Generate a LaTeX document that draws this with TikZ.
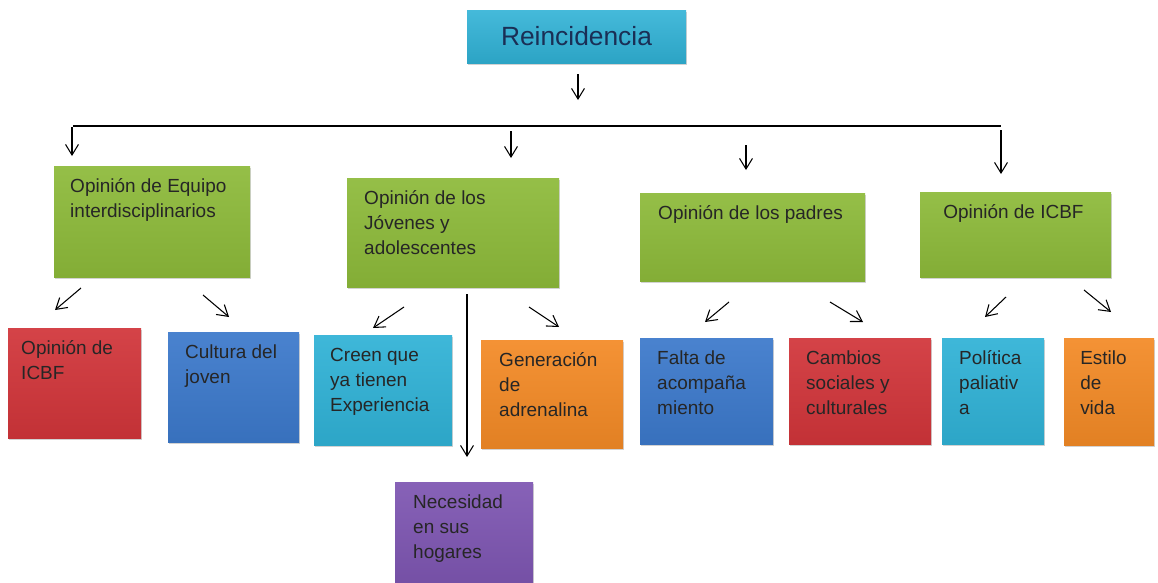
\documentclass[tikz,border=0pt]{standalone}
\usepackage{fontspec}
\setmainfont{Liberation Sans}
\usetikzlibrary{calc,arrows.meta,shadows}

\definecolor{verde}{HTML}{8DBA3A}
\definecolor{rojo}{HTML}{D1353A}
\definecolor{azul}{HTML}{3C79CB}
\definecolor{cian}{HTML}{30B2D6}
\definecolor{naranja}{HTML}{F38A26}
\definecolor{morado}{HTML}{7E56B2}
\definecolor{marino}{HTML}{1A2F55}

\begin{document}
\begin{tikzpicture}[x=0.03cm,y=-0.03cm,
  caja/.style={anchor=north west,inner sep=0pt,outer sep=0pt,drop shadow={shadow xshift=0.5pt,shadow yshift=-2pt,opacity=0.35}},
  texto/.style={anchor=north west,inner sep=0pt,align=left,text=black!85,font=\fontsize{16.2}{21.3}\selectfont},
  flecha/.style={-{Straight Barb[length=9pt,width=11pt]},line width=0.9pt}]

  \useasboundingbox[fill=white] (0,0) rectangle (1158,582);

  \def\caja#1#2#3#4#5#6#7#8{
    \node[caja,top color=#6!93!white,bottom color=#6!93!black,minimum width={#4*0.03cm},minimum height={#5*0.03cm}] (#1) at (#2,#3) {};
    \node[texto] (#1-t) at ([shift={(#7,8.5)}]#1.north west) {\strut #8};
  }

  % raiz
  \node[caja,top color=cian!90!white,bottom color=cian!92!black,minimum width={219*0.03cm},minimum height={53*0.03cm},text=marino,font=\fontsize{22.5}{27}\selectfont] (reinc) at (467,10) {Reincidencia};

  % opiniones
  \caja{e1}{54}{166}{196}{111}{verde}{16}{Opinión de Equipo\\interdisciplinarios}
  \caja{e2}{347}{178}{212}{109}{verde}{17}{Opinión de los\\Jóvenes y\\adolescentes}
  \caja{e3}{640}{193}{225}{88}{verde}{18}{Opinión de los padres}
  \caja{e4}{920}{192}{191}{85}{verde}{23}{Opinión de ICBF}

  % hojas
  \caja{h1}{8}{328}{133}{110}{rojo}{13}{Opinión de\\ICBF}
  \caja{h2}{168}{332}{131}{110}{azul}{17}{Cultura del\\joven}
  \caja{h3}{314}{335}{138}{110}{cian}{16}{Creen que\\ya tienen\\Experiencia}
  \caja{h4}{481}{340}{142}{108}{naranja}{18}{Generación\\de\\adrenalina}
  \caja{h5}{640}{338}{133}{106}{azul}{17}{Falta de\\acompaña\\miento}
  \caja{h6}{789}{338}{142}{106}{rojo}{17}{Cambios\\sociales y\\culturales}
  \caja{h7}{942}{338}{102}{106}{cian}{17}{Política\\paliativ\\a}
  \caja{h8}{1064}{338}{90}{107}{naranja}{16}{Estilo\\de\\vida}
  \caja{h9}{395}{482}{138}{100}{morado}{18}{Necesidad\\en sus\\hogares}

  % flechas de arriba
  \draw[flecha] ([shift={(1.5,11)}]reinc.south) -- ++(0,26);
  \coordinate (barra-i) at (73,126);
  \coordinate (barra-d) at (1001,126);
  \draw[line width=1.1pt] (barra-i) -- (barra-d);
  \draw[flecha] ([shift={(18,-39)}]e1.north west) -- ++(0,29);
  \draw[flecha] ([shift={(164,-47)}]e2.north west) -- ++(0,27);
  \draw[flecha] ([shift={(106,-48)}]e3.north west) -- ++(0,25);
  \draw[flecha] ([shift={(81,-62)}]e4.north west) -- ++(0,44);

  % flechas hacia las hojas
  \draw[flecha] ([shift={(27,11)}]e1.south west) -- ++(-26,22);
  \draw[flecha] ([shift={(149,18)}]e1.south west) -- ++(26,22);
  \draw[flecha] ([shift={(57,20)}]e2.south west) -- ++(-31,21);
  \draw[flecha] ([shift={(182,20)}]e2.south west) -- ++(30,20);
  \draw[flecha] ([shift={(120,7)}]e2.south west) -- ++(0,163);
  \draw[flecha] ([shift={(89,21)}]e3.south west) -- ++(-24,20);
  \draw[flecha] ([shift={(190,21)}]e3.south west) -- ++(33,20);
  \draw[flecha] ([shift={(86,20)}]e4.south west) -- ++(-21,20);
  \draw[flecha] ([shift={(164,13)}]e4.south west) -- ++(27,22);

\end{tikzpicture}
\end{document}
